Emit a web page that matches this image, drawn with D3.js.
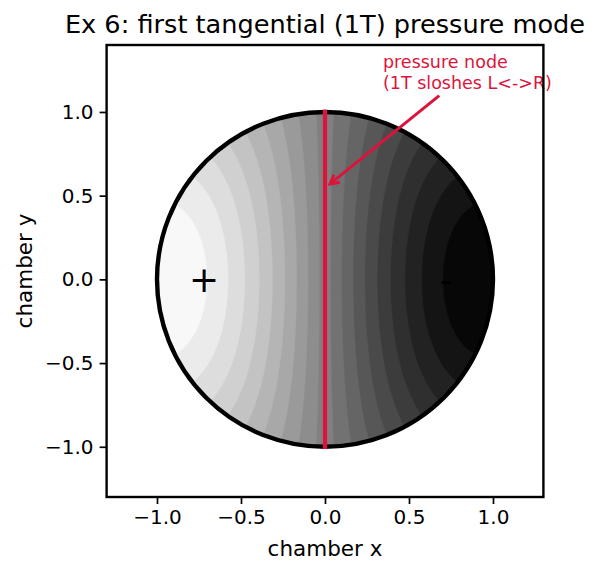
<!DOCTYPE html>
<html>
<head>
<meta charset="utf-8">
<script src="https://cdn.jsdelivr.net/npm/d3@7"></script>
<style>
  html, body { margin: 0; padding: 0; background: #ffffff; }
  svg text { font-family: "DejaVu Sans", sans-serif; }
</style>
</head>
<body>
<div id="chart"></div>
<script>
// ---------- data ----------
const titleText = "Ex 6: first tangential (1T) pressure mode";
const xLabel = "chamber x";
const yLabel = "chamber y";
const xDomain = [-1.3, 1.3];
const yDomain = [-1.3, 1.4];
const xTicks = [-1.0, -0.5, 0.0, 0.5, 1.0];
const yTicks = [-1.0, -0.5, 0.0, 0.5, 1.0];
const xTickLabels = ["\u22121.0", "\u22120.5", "0.0", "0.5", "1.0"];
const yTickLabels = ["\u22121.0", "\u22120.5", "0.0", "0.5", "1.0"];
// filled-contour levels of the normalised 1T pressure field (20 levels, 19 bands)
const contourLevels = [-1.0, -0.8947, -0.7895, -0.6842, -0.5789, -0.4737, -0.3684, -0.2632,
                       -0.1579, -0.0526, 0.0526, 0.1579, 0.2632, 0.3684, 0.4737, 0.5789,
                        0.6842, 0.7895, 0.8947, 1.0];
const modeRoot = 1.8412;          // first zero of J1' (1T mode eigenvalue)
const chamberRadius = 1.0;
const nodeLineX = [0.0, 0.0];
const nodeLineY = [-1.0, 1.0];
const signText = ["+", "-"];
const signX = [-0.72, 0.72];
const signY = [0.0, 0.0];
const annotationLines = ["pressure node", "(1T sloshes L<->R)"];
const annotationTextXY = [0.345, 1.14];
const arrowFrom = [0.68, 1.098];
const arrowTo = [0.03, 0.57];

// ---------- layout ----------
const W = 599, H = 573;
const plotLeft = 106.6, plotRight = 543.4, plotTop = 45, plotBottom = 497;
const red = "#DC143C";

const svg = d3.select("#chart").append("svg")
  .attr("width", W).attr("height", H)
  .attr("viewBox", `0 0 ${W} ${H}`);

const x = d3.scaleLinear().domain(xDomain).range([plotLeft, plotRight]);
const y = d3.scaleLinear().domain(yDomain).range([plotBottom, plotTop]);

// ---------- field ----------
function besselJ1(z) {
  let sum = 0, term = z / 2;
  for (let m = 0; m < 25; m++) {
    if (m > 0) term *= -(z * z / 4) / (m * (m + 1));
    sum += term;
  }
  return sum;
}
const J1max = besselJ1(modeRoot);
const n = 321;
const g0 = -1.05, g1 = 1.05, gd = (g1 - g0) / (n - 1);
const values = new Float64Array(n * n);
for (let j = 0; j < n; j++) {
  const yy = g0 + j * gd;
  for (let i = 0; i < n; i++) {
    const xx = g0 + i * gd;
    const r = Math.hypot(xx, yy);
    const c = r > 0 ? xx / r : 0;
    values[j * n + i] = -besselJ1(modeRoot * r) / J1max * c;
  }
}

const nBands = contourLevels.length - 1;
const lvlMin = contourLevels[0], lvlMax = contourLevels[nBands];
const grayScale = d3.scaleLinear().domain([lvlMin, lvlMax]).range([0, 255]);
const bandColor = i => {
  const v = Math.round(grayScale((contourLevels[i] + contourLevels[i + 1]) / 2));
  return `rgb(${v},${v},${v})`;
};

const contours = d3.contours().size([n, n]).thresholds(contourLevels.slice(1, -1))(values);
const proj = d3.geoTransform({
  point: function (px, py) {
    this.stream.point(x(g0 + (px - 0.5) * gd), y(g0 + (py - 0.5) * gd));
  }
});
const path = d3.geoPath(proj);

const cx = x(0), cy = y(0);
const rx = x(chamberRadius) - x(0), ry = y(0) - y(chamberRadius);

svg.append("defs").append("clipPath").attr("id", "disk")
  .append("ellipse").attr("cx", cx).attr("cy", cy).attr("rx", rx).attr("ry", ry);

const field = svg.append("g").attr("clip-path", "url(#disk)");
field.append("ellipse").attr("cx", cx).attr("cy", cy).attr("rx", rx + 2).attr("ry", ry + 2)
  .attr("fill", bandColor(0));
field.selectAll("path.band").data(contours).join("path")
  .attr("class", "band")
  .attr("d", path)
  .attr("fill", (d, i) => bandColor(i + 1))
  .attr("stroke", (d, i) => bandColor(i + 1))
  .attr("stroke-width", 0.4);

// chamber wall
svg.append("ellipse").attr("cx", cx).attr("cy", cy).attr("rx", rx).attr("ry", ry)
  .attr("fill", "none").attr("stroke", "#000").attr("stroke-width", 4.4);

// nodal line
svg.append("line")
  .attr("x1", x(nodeLineX[0])).attr("x2", x(nodeLineX[1]))
  .attr("y1", y(nodeLineY[0])).attr("y2", y(nodeLineY[1]))
  .attr("stroke", red).attr("stroke-width", 4.2).attr("stroke-linecap", "square");

// +/- markers
svg.selectAll("text.sign").data(signText).join("text")
  .attr("class", "sign")
  .attr("x", (d, i) => x(signX[i]))
  .attr("y", (d, i) => y(signY[i]))
  .attr("text-anchor", "middle")
  .attr("dominant-baseline", "central")
  .attr("font-size", 36)
  .attr("fill", "#000")
  .text(d => d);

// annotation
const ann = svg.append("text")
  .attr("x", x(annotationTextXY[0]))
  .attr("y", y(annotationTextXY[1]))
  .attr("fill", red).attr("font-size", 17.5);
ann.selectAll("tspan").data(annotationLines).join("tspan")
  .attr("x", x(annotationTextXY[0]))
  .attr("dy", (d, i) => i === 0 ? -21 : 21)
  .text(d => d);

const ax0 = x(arrowFrom[0]), ay0 = y(arrowFrom[1]);
const ax1 = x(arrowTo[0]), ay1 = y(arrowTo[1]);
svg.append("line").attr("x1", ax0).attr("y1", ay0).attr("x2", ax1).attr("y2", ay1)
  .attr("stroke", red).attr("stroke-width", 3);
{
  const ang = Math.atan2(ay1 - ay0, ax1 - ax0);
  const hl = 10, hw = 0.5;
  const p1 = [ax1 - hl * Math.cos(ang - hw), ay1 - hl * Math.sin(ang - hw)];
  const p2 = [ax1 - hl * Math.cos(ang + hw), ay1 - hl * Math.sin(ang + hw)];
  svg.append("path")
    .attr("d", `M${p1[0]},${p1[1]}L${ax1},${ay1}L${p2[0]},${p2[1]}`)
    .attr("fill", "none").attr("stroke", red).attr("stroke-width", 3)
    .attr("stroke-linejoin", "miter");
}

// ---------- axes ----------
const xAxis = d3.axisBottom(x).tickValues(xTicks).tickFormat((d, i) => xTickLabels[i])
  .tickSizeInner(7).tickSizeOuter(0).tickPadding(6);
const yAxis = d3.axisLeft(y).tickValues(yTicks).tickFormat((d, i) => yTickLabels[i])
  .tickSizeInner(7).tickSizeOuter(0).tickPadding(6);

const gx = svg.append("g").attr("transform", `translate(0,${plotBottom})`).call(xAxis);
const gy = svg.append("g").attr("transform", `translate(${plotLeft},0)`).call(yAxis);
[gx, gy].forEach(g => {
  g.select(".domain").remove();
  g.selectAll(".tick line").attr("stroke", "#000").attr("stroke-width", 1.7);
  g.selectAll(".tick text").attr("font-size", 20).attr("fill", "#000")
    .attr("font-family", "DejaVu Sans, sans-serif");
});

// frame
svg.append("rect")
  .attr("x", plotLeft).attr("y", plotTop)
  .attr("width", plotRight - plotLeft).attr("height", plotBottom - plotTop)
  .attr("fill", "none").attr("stroke", "#000").attr("stroke-width", 2.4);

// labels
svg.append("text").attr("x", (plotLeft + plotRight) / 2).attr("y", 556)
  .attr("text-anchor", "middle").attr("font-size", 21.5).attr("fill", "#000").text(xLabel);
svg.append("text")
  .attr("transform", `translate(32,${(plotTop + plotBottom) / 2}) rotate(-90)`)
  .attr("text-anchor", "middle").attr("font-size", 21.5).attr("fill", "#000").text(yLabel);
svg.append("text").attr("x", (plotLeft + plotRight) / 2).attr("y", 33)
  .attr("text-anchor", "middle").attr("font-size", 25.6).attr("fill", "#000").text(titleText);
</script>
</body>
</html>
